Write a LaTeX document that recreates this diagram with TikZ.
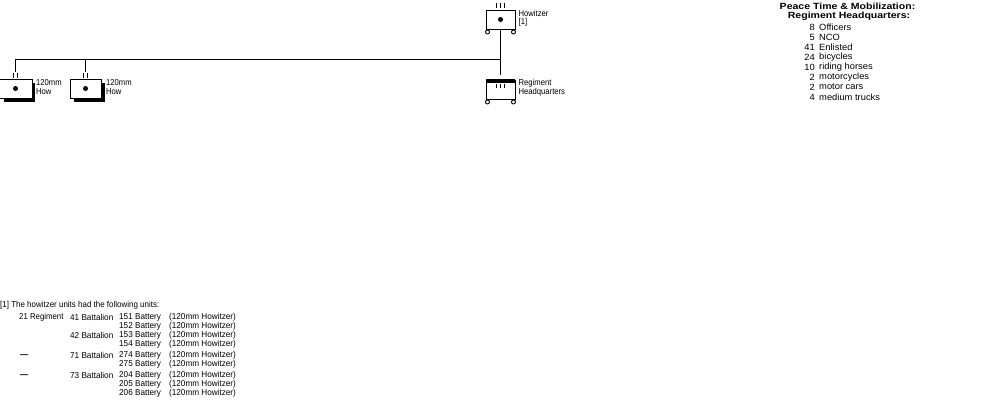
\documentclass[tikz,border=0pt]{standalone}
\usepackage{fontspec}
\setmainfont{Liberation Sans}
\tikzset{
  x=1pt,y=-1pt,
  base/.style={inner sep=0pt,anchor=west,font=\fontsize{8.6}{9}\selectfont},
  txt/.style={base,xscale=0.95},
  lbl/.style={base,xscale=0.89},
  note/.style={base,xscale=0.927},
  wide/.style={inner sep=0pt,anchor=west,font=\fontsize{9}{10}\selectfont,xscale=1.04},
  num/.style={inner sep=0pt,anchor=east,font=\fontsize{9}{10}\selectfont,xscale=1.04},
  head/.style={inner sep=0pt,font=\fontsize{9}{10}\bfseries\selectfont,xscale=1.17},
  unitbox/.style={draw=black,line width=1pt,fill=white,inner sep=0pt,minimum width=#1,minimum height=19pt},
  shadow/.style={fill=black,inner sep=0pt,minimum width=#1,minimum height=19pt},
  foot/.style={draw=black,line width=.9pt,fill=white,circle,inner sep=0pt,minimum size=4pt},
  dot/.style={fill=black,circle,inner sep=0pt,minimum size=5pt},
  tick/.style={line width=1pt},
  link/.style={line width=1pt},
}
\begin{document}
\begin{tikzpicture}
\useasboundingbox (0,0) rectangle (1000,400);
% Howitzer command symbol
\node[unitbox=29pt] (how) at (500.5,19.5) {};
\node[dot] at (how.center) {};
\node[foot] (howfl) at (487.5,32) {};
\node[foot] (howfr) at (513.5,32) {};
\foreach \tx in {496.5,500.5,504.5} \draw[tick] (\tx,3) -- (\tx,7.5);
\node[lbl] (howa) at (518.5,13) {Howitzer};
\node[lbl] (howb) at (518.5,22) {[1]};
% Regiment headquarters symbol
\node[unitbox=29pt] (hq) at (500.5,89.5) {};
\fill (486,79) rectangle (515,82.5);
\node[foot] (hqfl) at (487.5,102) {};
\node[foot] (hqfr) at (513.5,102) {};
\foreach \tx in {496.5,500.5,504.5} \draw[tick] (\tx,84) -- (\tx,88);
\node[lbl] (hqa) at (518.5,83) {Regiment};
\node[lbl] (hqb) at (518.5,92) {Headquarters};
% Two 120mm howitzer batteries with drop shadows
\node[shadow=31pt] (sa) at (19.5,92) {};
\node[unitbox=33pt] (a) at (15.5,88.5) {};
\node[dot] at (a.center) {};
\foreach \tx in {13.5,17.5} \draw[tick] (\tx,73) -- (\tx,77.5);
\node[lbl] (aa) at (36,83) {120mm};
\node[lbl] (ab) at (36,92) {How};
\node[shadow=31pt] (sb) at (89.5,92) {};
\node[unitbox=31pt] (b) at (85.5,88.5) {};
\node[dot] at (b.center) {};
\foreach \tx in {83.5,87.5} \draw[tick] (\tx,73) -- (\tx,77.5);
\node[lbl] (ba) at (106,83) {120mm};
\node[lbl] (bb) at (106,92) {How};
% Connectors
\coordinate (ja) at (15.5,72);
\coordinate (jb) at (85.5,72);
\coordinate (bus) at (500.5,59.5);
\draw[link] (how.south) -- (bus);
\draw[link] (bus) -- (500.5,74.5);
\draw[link] (bus) -| (ja);
\draw[link] (jb) -- (jb |- bus);
% Strength table
\node[head] (t1) at (847.5,6.5) {Peace Time \& Mobilization:};
\node[head] (t2) at (849,16.5) {Regiment Headquarters:};
\foreach \y/\n/\w in {27/8/Officers,37/5/NCO,47/41/Enlisted,57/24/bicycles,67/10/riding horses,77/2/motorcycles,87/2/motor cars,97/4/medium trucks}{
  \node[num] at (815,\y) {\n};
  \node[wide] at (819,\y) {\w};
}
% Footnote
\node[note] (fn) at (0,305) {[1] The howitzer units had the following units:};
\node[lbl,xscale=1.02] at (19,317.5) {21 Regiment};
\node[txt] at (70,317.5) {41 Battalion};
\node[txt] at (70,335.5) {42 Battalion};
\node[txt] at (70,355.5) {71 Battalion};
\node[txt] at (70,375.5) {73 Battalion};
\node[txt,font=\fontsize{8.6}{9}\bfseries\selectfont] at (20,356) {—};
\node[txt,font=\fontsize{8.6}{9}\bfseries\selectfont] at (20,376) {—};
\foreach \y/\n in {317.5/151,326.5/152,335.5/153,344.5/154,355.5/274,364.5/275,375.5/204,384.5/205,393.5/206}{
  \node[txt] at (119,\y) {\n\ Battery};
  \node[txt] at (169,\y) {(120mm Howitzer)};
}
\end{tikzpicture}
\end{document}
